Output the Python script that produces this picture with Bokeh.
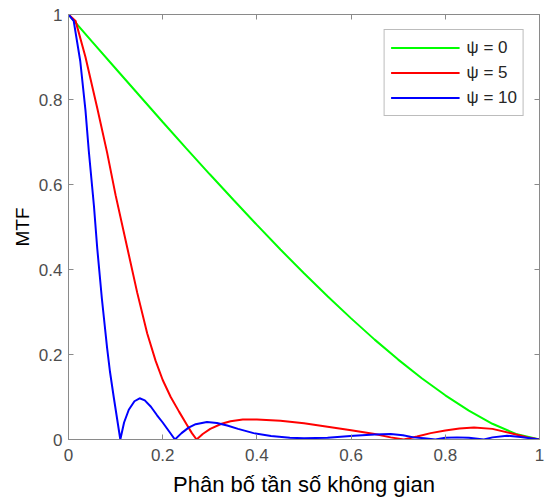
from bokeh.plotting import figure
from bokeh.models import LinearAxis, Range1d, Legend, LegendItem, FixedTicker
from bokeh.embed import file_html
from bokeh.resources import INLINE

# ---- data ----
x_psi0 = [0, 0.05, 0.1, 0.15, 0.2, 0.25, 0.3, 0.35, 0.4, 0.45, 0.5, 0.55, 0.6,
          0.65, 0.7, 0.75, 0.8, 0.85, 0.9, 0.95, 1.0]
y_psi0 = [1, 0.936, 0.873, 0.810, 0.747, 0.685, 0.624, 0.564, 0.505, 0.447,
          0.391, 0.337, 0.285, 0.235, 0.188, 0.144, 0.104, 0.068, 0.037, 0.013, 0.0]

x_psi5 = [0, 0.015, 0.036, 0.061, 0.082, 0.100, 0.125, 0.146, 0.167, 0.185, 0.200,
          0.217, 0.235, 0.250, 0.262, 0.272, 0.285, 0.301, 0.325, 0.344, 0.37, 0.40,
          0.45, 0.50, 0.55, 0.60, 0.65, 0.684, 0.712, 0.74, 0.769, 0.80, 0.83, 0.861,
          0.90, 0.946, 0.975, 1.0]
y_psi5 = [1, 0.985, 0.90, 0.78, 0.675, 0.575, 0.45, 0.345, 0.25, 0.185, 0.140,
          0.100, 0.065, 0.037, 0.015, 0.0, 0.013, 0.025, 0.037, 0.043, 0.047, 0.047,
          0.044, 0.038, 0.030, 0.022, 0.013, 0.005, 0.0, 0.007, 0.015, 0.021, 0.026, 0.028,
          0.025, 0.013, 0.005, 0.0]

x_psi10 = [0, 0.011, 0.025, 0.036, 0.043, 0.054, 0.061, 0.071, 0.082, 0.088, 0.096,
           0.103, 0.110, 0.118, 0.128, 0.140, 0.151, 0.162, 0.175, 0.188, 0.200, 0.213,
           0.226, 0.240, 0.255, 0.270, 0.294, 0.315, 0.337, 0.36, 0.393, 0.43, 0.47,
           0.50, 0.55, 0.606, 0.65, 0.684, 0.71, 0.733, 0.755, 0.779, 0.80, 0.825,
           0.85, 0.882, 0.90, 0.931, 0.96, 0.98, 1.0]
y_psi10 = [1, 0.985, 0.89, 0.775, 0.68, 0.55, 0.45, 0.33, 0.215, 0.16, 0.10,
           0.05, 0.0, 0.04, 0.07, 0.09, 0.097, 0.092, 0.077, 0.057, 0.040, 0.020,
           0.0, 0.015, 0.028, 0.036, 0.041, 0.039, 0.033, 0.025, 0.015, 0.008, 0.004,
           0.003, 0.004, 0.009, 0.012, 0.013, 0.010, 0.005, 0.003, 0.0, 0.004, 0.005,
           0.004, 0.0, 0.005, 0.009, 0.006, 0.003, 0.0]

series_labels = ["ψ = 0", "ψ = 5", "ψ = 10"]
series_colors = ["#00ff00", "#ff0000", "#0000ff"]
ticks = [0, 0.2, 0.4, 0.6, 0.8, 1]

FONT = "Liberation Sans"
AXIS_COL = "#8a8a8a"
TICK_COL = "#4d4d4d"

p = figure(width=549, height=502, output_backend="svg", toolbar_location=None,
           x_range=Range1d(0, 1), y_range=Range1d(0, 1),
           min_border_left=68, min_border_right=10, min_border_top=14,
           min_border_bottom=63)
p.grid.visible = False
p.outline_line_color = AXIS_COL
p.outline_line_width = 1
p.background_fill_color = "white"
p.border_fill_color = "white"

renderers = []
for xs, ys, c in zip([x_psi0, x_psi5, x_psi10], [y_psi0, y_psi5, y_psi10], series_colors):
    r = p.line(xs, ys, line_color=c, line_width=2)
    renderers.append(r)


def style(ax, show_labels=True):
    ax.ticker = FixedTicker(ticks=ticks)
    ax.axis_line_color = AXIS_COL
    ax.major_tick_line_color = AXIS_COL
    ax.major_tick_in = 5
    ax.major_tick_out = 0
    ax.minor_tick_line_color = None
    ax.major_label_text_font = FONT
    ax.major_label_text_font_size = "17px"
    ax.major_label_text_color = TICK_COL
    if not show_labels:
        ax.major_label_text_color = None
        ax.major_label_text_font_size = "1px"
        ax.major_label_standoff = 0
        ax.axis_label = None


xa = p.xaxis[0]
ya = p.yaxis[0]
style(xa)
style(ya)
xa.major_label_standoff = 9
ya.major_label_standoff = 6
xa.major_label_overrides = {0: "0", 1: "1"}
ya.major_label_overrides = {0: "0", 1: "1"}
xa.axis_label = "Phân bố tần số không gian"
ya.axis_label = "MTF"
for ax, sz in ((xa, "22px"), (ya, "19px")):
    ax.axis_label_text_font = FONT
    ax.axis_label_text_font_size = sz
    ax.axis_label_text_font_style = "normal"
    ax.axis_label_text_color = "#000000"
xa.axis_label_standoff = 8
ya.axis_label_standoff = 3

top = LinearAxis()
right = LinearAxis()
style(top, False)
style(right, False)
p.add_layout(top, "above")
p.add_layout(right, "right")

legend = Legend(items=[LegendItem(label=l, renderers=[r]) for l, r in zip(series_labels, renderers)],
                location="top_right")
legend.margin = 15
legend.padding = 6
legend.spacing = 2
legend.glyph_width = 69
legend.glyph_height = 23
legend.label_height = 23
legend.label_standoff = 7
legend.label_text_font = FONT
legend.label_text_font_size = "17px"
legend.label_text_color = "#262626"
legend.border_line_color = "#7a7a7a"
legend.border_line_width = 1
legend.background_fill_color = "white"
legend.background_fill_alpha = 1
p.add_layout(legend, "center")

open("out.html", "w").write(file_html(p, INLINE))
